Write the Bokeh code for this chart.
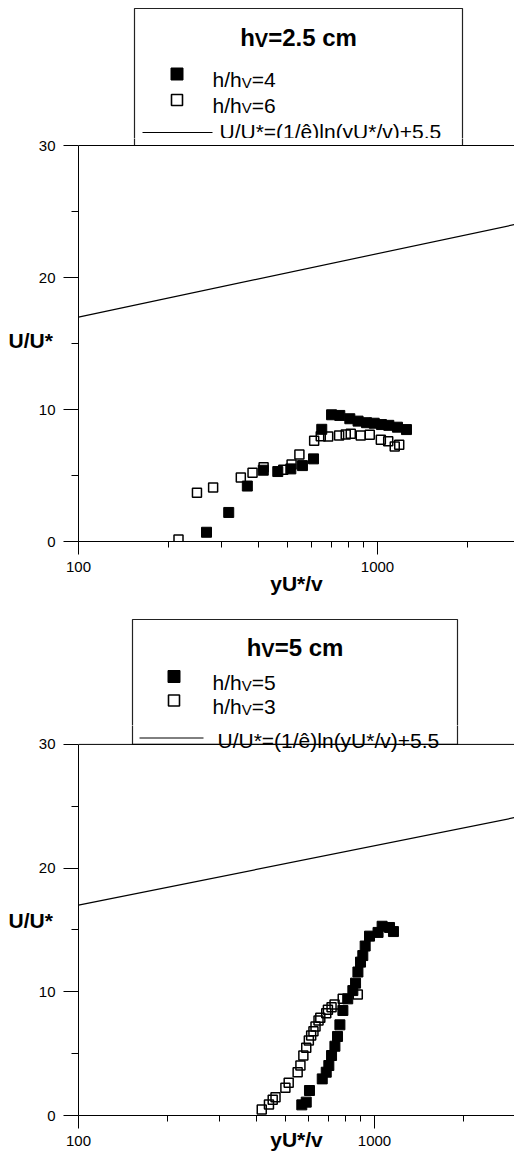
from bokeh.plotting import figure
from bokeh.models import Range1d, FixedTicker, Span, Label, PrintfTickFormatter
from bokeh.layouts import column
from bokeh.embed import file_html
from bokeh.resources import INLINE

# ---------------- data ----------------
# panel 1 : h_v = 2.5 cm
p1_title = "=2.5 cm"
p1_series_names = ["=4", "=6"]
hv4_x = [268, 318, 367, 415, 464, 513, 561, 611, 651, 702, 748, 808, 861, 919, 975, 1031, 1091, 1166, 1250]
hv4_y = [0.7, 2.2, 4.2, 5.4, 5.3, 5.5, 5.75, 6.26, 8.5, 9.6, 9.55, 9.3, 9.12, 9.0, 8.96, 8.86, 8.8, 8.66, 8.48]
hv6_x = [216, 249, 282, 349, 382, 416, 484, 516, 548, 614, 646, 684, 744, 783, 814, 879, 942, 1026, 1086, 1142, 1182]
hv6_y = [0.15, 3.7, 4.1, 4.85, 5.2, 5.63, 5.43, 5.83, 6.6, 7.63, 7.98, 7.95, 8.03, 8.1, 8.16, 8.03, 8.08, 7.7, 7.6, 7.2, 7.33]

# panel 2 : h_v = 5 cm
p2_title = "=5 cm"
p2_series_names = ["=5", "=3"]
hv5_x = [568, 588, 603, 666, 687, 701, 716, 735, 750, 764, 782, 812, 845, 863, 879, 897, 913, 930, 962, 1028, 1061, 1124, 1159]
hv5_y = [0.86, 1.08, 2.02, 2.96, 3.5, 4.04, 4.85, 5.6, 6.39, 7.33, 8.49, 9.43, 10.1, 10.7, 11.6, 12.4, 12.93, 13.7, 14.5, 14.8, 15.3, 15.2, 14.87]
hv3_x = [416, 440, 453, 463, 500, 513, 550, 562, 575, 588, 600, 611, 622, 632, 647, 656, 687, 696, 716, 733, 781, 878]
hv3_y = [0.49, 0.89, 1.27, 1.48, 2.24, 2.64, 3.5, 4.04, 4.85, 5.47, 6.06, 6.47, 6.82, 7.2, 7.68, 7.9, 8.27, 8.55, 8.76, 8.97, 9.43, 9.78]

# log-law line U/U* = (1/k) ln(yU*/v) + 5.5 as drawn
law_x = [100, 3000]
law_y = [17.0, 24.1]
law_text = "U/U*=(1/ê)ln(yU*/v)+5.5"

x_ticks = [100, 1000]
x_minor = [200, 300, 400, 500, 600, 700, 800, 900, 2000, 3000]
y_ticks = [0, 10, 20, 30]
y_minor = [5, 15, 25]
x_label = "yU*/v"
y_label = "U/U*"

# ---------------- text metrics (Arial / Liberation Sans) ----------------
AR = {'h': .556, '/': .278, '=': .584, 'V': .667, 'U': .722, '*': .389, '(': .333, ')': .333,
      'l': .222, 'n': .556, 'y': .5, 'v': .5, '+': .584, '.': .278, ' ': .278, 'c': .5, 'm': .833,
      'ê': .556}
AB = {'h': .611, '/': .278, '=': .584, 'V': .667, '.': .278, ' ': .278, 'c': .556, 'm': .889}
for d in '0123456789':
    AR[d] = .556
    AB[d] = .556


def tw(s, size, bold=False):
    t = AB if bold else AR
    return sum(t.get(c, .556) for c in s) * size


FONT = "Liberation Sans"
ES, SS = 21, 15  # legend entry font / subscript font
FL = 78          # common left border (frame left) of every figure


def add_label(p, x, y, text, size, bold=False, align="left"):
    p.add_layout(Label(x=x, y=y, text=text, text_font=FONT,
                       text_font_size=f"{size}px", text_font_style="bold" if bold else "normal",
                       text_align=align, text_baseline="alphabetic", text_color="black"))


def base_fig(**kw):
    p = figure(output_backend="svg", toolbar_location=None, **kw)
    p.grid.visible = False
    p.outline_line_color = None
    p.background_fill_color = "white"
    p.border_fill_color = "white"
    return p


def make_legend_fig(g, title_rest, names, with_law):
    top, h = g["leg_top"], g["leg_h"]
    p = base_fig(width=514, height=h, frame_width=514 - FL, frame_height=h,
                 x_range=Range1d(FL, 514), y_range=Range1d(h, 0),
                 x_axis_location=None, y_axis_location=None,
                 min_border_left=FL, min_border_right=0, min_border_top=0, min_border_bottom=0)

    def R(py):
        return py - top

    bl, bt, br, bb = g["box"]
    p.quad(left=[bl], right=[br], top=[R(bt)], bottom=[h + 20], fill_color="white",
           line_color="#222222", line_width=1.2)

    # title  h_V=...
    ts, vs = 24, 20
    total = tw("h", ts, True) + tw("V", vs, True) + tw(title_rest, ts, True)
    x0 = g["title_cx"] - total / 2
    tb = R(g["title_base"])
    add_label(p, x0, tb, "h", ts, True)
    x1 = x0 + tw("h", ts, True)
    add_label(p, x1, tb + 2.3, "V", vs, True)
    add_label(p, x1 + tw("V", vs, True), tb, title_rest, ts, True)

    for i, nm in enumerate(names):
        my = R(g["mark_y"][i])
        if i == 0:
            p.scatter([g["mark_x"]], [my], marker="square", size=12, fill_color="black",
                      line_color="black")
        else:
            p.scatter([g["mark_x"]], [my], marker="square", size=11, fill_color=None,
                      line_color="black", line_width=1.6)
        b = R(g["entry_base"][i])
        ex = g["text_x"]
        add_label(p, ex, b, "h/h", ES)
        ex1 = ex + tw("h/h", ES)
        add_label(p, ex1, b + 2.7, "V", SS)
        add_label(p, ex1 + tw("V", SS), b, nm, ES)

    if with_law:
        lx0, lx1, ly = g["line_entry"]
        p.line([lx0, lx1], [R(ly), R(ly)], line_color="black", line_width=1)
        add_label(p, g["law_text_x"], R(g["law_base"]), law_text, ES)
    return p


def make_plot_fig(g, s_fill_x, s_fill_y, s_open_x, s_open_y, with_law):
    dec, zero, upx = g["decade"], g["zero"], g["upx"]
    top = g["plot_top"]
    h = g["plot_h"]
    fw = 514 - FL
    fh = zero - top

    def X(px):
        return 100 * 10 ** ((px - FL) / dec)

    def Y(py):
        return (zero - py) / upx

    p = base_fig(x_axis_type="log", x_range=Range1d(100, X(514)), y_range=Range1d(0, Y(top)),
                 width=514, height=h, frame_width=fw, frame_height=fh,
                 min_border_left=FL, min_border_right=0, min_border_top=0,
                 min_border_bottom=h - fh)

    xa = p.xaxis[0]
    xa.ticker = FixedTicker(ticks=x_ticks, minor_ticks=x_minor)
    xa.formatter = PrintfTickFormatter(format="%d")
    xa.major_tick_out = 13
    xa.major_tick_in = 0
    xa.minor_tick_out = 6
    xa.minor_tick_in = 0
    xa.major_label_standoff = 7
    xa.axis_label = x_label
    xa.axis_label_standoff = g["xlab_standoff"]
    ya = p.yaxis[0]
    ya.ticker = FixedTicker(ticks=y_ticks, minor_ticks=y_minor)
    ya.bounds = (0, 30)
    ya.major_tick_out = 15
    ya.major_tick_in = 0
    ya.minor_tick_out = 7
    ya.minor_tick_in = 0
    ya.major_label_standoff = 8
    ya.axis_label = y_label
    ya.axis_label_orientation = "horizontal"
    ya.axis_label_standoff = -17
    for ax in (xa, ya):
        ax.axis_line_color = "black"
        ax.major_tick_line_color = "black"
        ax.minor_tick_line_color = "black"
        ax.major_label_text_font = FONT
        ax.major_label_text_font_size = "15px"
        ax.major_label_text_color = "black"
        ax.axis_label_text_font = FONT
        ax.axis_label_text_font_size = "21px"
        ax.axis_label_text_font_style = "bold"
        ax.axis_label_text_color = "black"

    # continuation of the legend frame (sides) down to the top border at 30
    bl, bt, br, bb = g["box"]
    p.quad(left=[X(bl)], right=[X(br)], top=[Y(top) + 5], bottom=[30], fill_color="white",
           line_color="#222222", line_width=1.2)
    p.add_layout(Span(location=30, dimension="width", line_color="black", line_width=1))

    if with_law:
        lx0, lx1, ly = g["line_entry"]
        p.line([X(lx0), X(lx1)], [Y(ly), Y(ly)], line_color="black", line_width=1)
        add_label(p, X(g["law_text_x"]), Y(g["law_base"]), law_text, ES)

    # log law
    p.line(law_x, law_y, line_color="black", line_width=1.2)
    # data
    p.scatter(s_fill_x, s_fill_y, marker="square", size=10, fill_color="black", line_color="black")
    p.scatter(s_open_x, s_open_y, marker="square", size=9, fill_color=None, line_color="black",
              line_width=1.5)
    return p


# geometry (absolute page pixels)
g1 = dict(leg_top=0, leg_h=138, plot_top=138, plot_h=462,
          decade=299, zero=541, upx=13.2,
          box=(134, 8, 462, 145), title_cx=298, title_base=37,
          mark_x=176.5, mark_y=[73.5, 99.5], entry_base=[79, 104.5], text_x=212,
          line_entry=(142, 212, 132), law_text_x=219, law_base=130.5,
          xlab_standoff=-3)
g2 = dict(leg_top=600, leg_h=125, plot_top=725, plot_h=430,
          decade=296, zero=1115, upx=12.37,
          box=(132, 619, 457, 745), title_cx=294.5, title_base=647,
          mark_x=173.5, mark_y=[676, 700], entry_base=[682, 706], text_x=212,
          line_entry=(139, 203, 737.5), law_text_x=217, law_base=739.5,
          xlab_standoff=-21)

leg1 = make_legend_fig(g1, p1_title, p1_series_names, True)
plot1 = make_plot_fig(g1, hv4_x, hv4_y, hv6_x, hv6_y, False)
leg2 = make_legend_fig(g2, p2_title, p2_series_names, False)
plot2 = make_plot_fig(g2, hv5_x, hv5_y, hv3_x, hv3_y, True)

layout = column(leg1, plot1, leg2, plot2, spacing=0)
open("out.html", "w").write(file_html(layout, INLINE))
